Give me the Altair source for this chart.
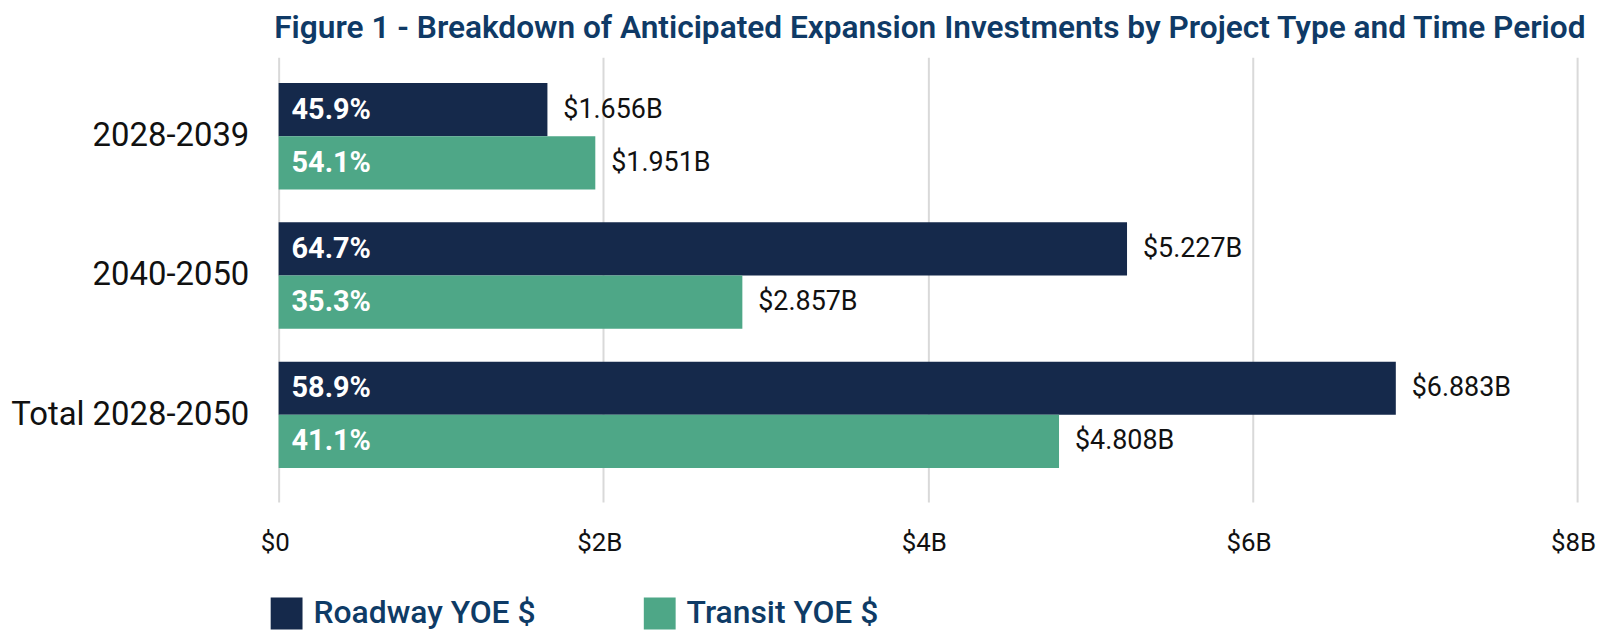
import altair as alt
import pandas as pd

periods = ["2028-2039", "2040-2050", "Total 2028-2050"]
series = ["Roadway YOE $", "Transit YOE $"]
roadway_values = [1.656, 5.227, 6.883]
transit_values = [1.951, 2.857, 4.808]
roadway_shares = ["45.9%", "64.7%", "58.9%"]
transit_shares = ["54.1%", "35.3%", "41.1%"]
x_ticks = [0, 2, 4, 6, 8]
colors = ["#15294b", "#4ea787"]
title_text = "Figure 1 - Breakdown of Anticipated Expansion Investments by Project Type and Time Period"

rows = []
for i, p in enumerate(periods):
    rows.append({"period": p, "type": series[0], "value": roadway_values[i], "share": roadway_shares[i]})
    rows.append({"period": p, "type": series[1], "value": transit_values[i], "share": transit_shares[i]})
df = pd.DataFrame(rows)
df["label"] = df["value"].map(lambda v: f"${v:.3f}B")
df["zero"] = 0.0

FONT = "Roboto"

y = alt.Y(
    "period:N", sort=periods, title=None,
    scale=alt.Scale(paddingInner=0.236, paddingOuter=0.214, align=0.43),
    axis=alt.Axis(labelFont=FONT, labelFontSize=33, labelColor="#111111", labelPadding=30,
                  labelLimit=500, domain=False, ticks=False, grid=False),
)
yoff = alt.YOffset("type:N", sort=series, scale=alt.Scale(paddingInner=0, paddingOuter=0))
x = alt.X(
    "value:Q", title=None,
    scale=alt.Scale(domain=[0, 8], nice=False),
    axis=alt.Axis(values=x_ticks,
                  labelExpr="datum.value == 0 ? '$0' : '$' + datum.value + 'B'",
                  labelFont=FONT, labelFontSize=26, labelColor="#111111", labelPadding=28,
                  labelFlush=False, labelOverlap=False,
                  ticks=False, tickSize=0, domain=False, grid=True,
                  gridColor="#d9d9d9", gridWidth=2, labelOffset=-4),
)
color = alt.Color(
    "type:N", sort=series,
    scale=alt.Scale(domain=series, range=colors),
    legend=alt.Legend(title=None, orient="none", legendX=-8, legendY=543,
                      direction="horizontal", columns=2, symbolType="square",
                      symbolSize=1024, symbolStrokeWidth=0, symbolOpacity=1,
                      labelFont=FONT, labelFontSize=32, labelFontWeight=500,
                      labelColor="#0e3b66", labelOffset=11, columnPadding=108,
                      padding=0, labelLimit=400),
)

base = alt.Chart(df)
bars = base.mark_bar().encode(x=x, y=y, yOffset=yoff, color=color)
pct = base.mark_text(align="left", baseline="middle", dx=13, font=FONT, fontSize=29,
                     fontWeight="bold", color="white").encode(
    x=alt.X("zero:Q"), y=alt.Y("period:N", sort=periods), yOffset=yoff, text="share:N")
vals = base.mark_text(align="left", baseline="middle", dx=16, font=FONT, fontSize=27,
                      color="#111111").encode(
    x=alt.X("value:Q"), y=alt.Y("period:N", sort=periods), yOffset=yoff, text="label:N")

chart = alt.layer(bars, pct, vals).properties(
    width=1305, height=447,
    autosize=alt.AutoSizeParams(type="none"),
    padding={"left": 272, "top": 48, "right": 23, "bottom": 129},
    title=alt.Title(title_text, font=FONT, fontSize=31.8, fontWeight=600,
                    color="#0f3a66", anchor="middle", offset=13, dx=2),
).configure_view(stroke=None)

chart.save("out.html", embed_options={"renderer": "svg", "actions": False})
